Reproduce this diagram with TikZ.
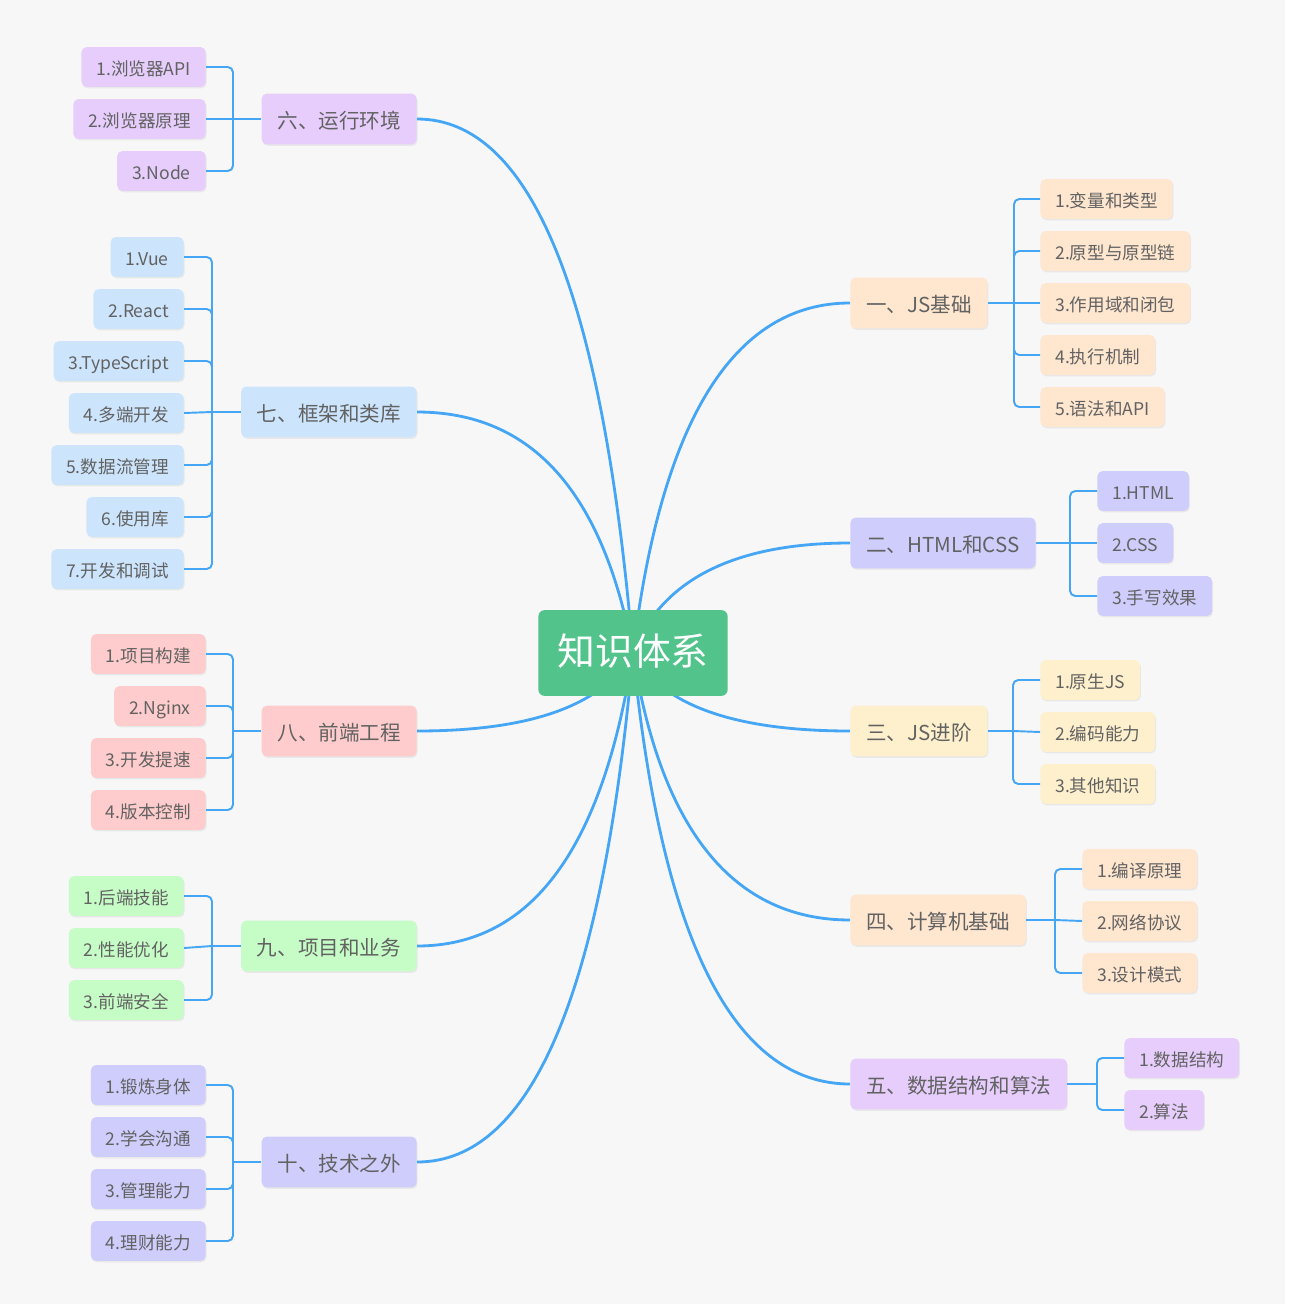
\documentclass[tikz,border=0pt]{standalone}
\usepackage{fontspec}
\setmainfont{Noto Sans CJK SC}
\usepackage{xcolor}
\usepackage{tikz}
\usetikzlibrary{backgrounds, shadows}

\definecolor{canvas}{HTML}{F7F7F7}
\definecolor{ink}{HTML}{626262}
\definecolor{wire}{HTML}{45A6F5}
\definecolor{rootgreen}{HTML}{51C38B}
\definecolor{peach}{HTML}{FEE6CF}
\definecolor{lilac}{HTML}{CFCDFC}
\definecolor{cream}{HTML}{FEF0CC}
\definecolor{mauve}{HTML}{E6CDFC}
\definecolor{sky}{HTML}{CCE5FC}
\definecolor{rose}{HTML}{FECCCC}
\definecolor{mint}{HTML}{C6FCC6}

\begin{document}
\begin{tikzpicture}[
    x=0.02cm, y=-0.02cm,
    root/.style={rectangle, fill=rootgreen, text=white, rounded corners=3.5pt, minimum width=107.7pt, minimum height=48.8pt, text height=1.5em, text depth=0.12em, font=\fontsize{21.5}{24}\selectfont},
    topic/.style={rectangle, rounded corners=3pt, text=ink, minimum height=29pt, inner xsep=9pt, text height=1.25em, text depth=0.15em, font=\fontsize{11.7}{14}\selectfont, drop shadow={shadow xshift=0.5pt, shadow yshift=-0.8pt, opacity=0.12}},
    leaf/.style={rectangle, rounded corners=3pt, text=ink, minimum height=22.7pt, inner xsep=8.5pt, text height=1.1em, text depth=0.15em, font=\fontsize{10}{12}\selectfont, drop shadow={shadow xshift=0.5pt, shadow yshift=-0.8pt, opacity=0.12}},
    trunk/.style={draw=wire, line width=1.6pt},
    twig/.style={draw=wire, line width=1.1pt, rounded corners=3pt}
]
% Canvas
\begin{scope}[on background layer]
\fill[white] (0,0) rectangle (1293,1312);
\fill[canvas] (0,0) rectangle (1285,1304);
\end{scope}
\useasboundingbox (0,0) rectangle (1293,1312);

% Nodes
\node[root] (root) at (633,653) {知识体系};

\node[topic, fill=peach, anchor=west] (js) at (850,303) {一、JS基础};
\node[leaf, fill=peach, anchor=west] (js1) at (1040,199) {1.变量和类型};
\node[leaf, fill=peach, anchor=west] (js2) at (1040,251) {2.原型与原型链};
\node[leaf, fill=peach, anchor=west] (js3) at (1040,303) {3.作用域和闭包};
\node[leaf, fill=peach, anchor=west] (js4) at (1040,355) {4.执行机制};
\node[leaf, fill=peach, anchor=west] (js5) at (1040,407) {5.语法和API};
\coordinate (jsb) at (1014,303);

\node[topic, fill=lilac, anchor=west] (html) at (850,543) {二、HTML和CSS};
\node[leaf, fill=lilac, anchor=west] (html1) at (1097,491) {1.HTML};
\node[leaf, fill=lilac, anchor=west] (html2) at (1097,543) {2.CSS};
\node[leaf, fill=lilac, anchor=west] (html3) at (1097,596) {3.手写效果};
\coordinate (htmlb) at (1070,543);

\node[topic, fill=cream, anchor=west] (jsadv) at (850,731) {三、JS进阶};
\node[leaf, fill=cream, anchor=west] (jsadv1) at (1040,680) {1.原生JS};
\node[leaf, fill=cream, anchor=west] (jsadv2) at (1040,732) {2.编码能力};
\node[leaf, fill=cream, anchor=west] (jsadv3) at (1040,784) {3.其他知识};
\coordinate (jsadvb) at (1013,731);

\node[topic, fill=peach, anchor=west] (cs) at (850,920) {四、计算机基础};
\node[leaf, fill=peach, anchor=west] (cs1) at (1082,869) {1.编译原理};
\node[leaf, fill=peach, anchor=west] (cs2) at (1082,921) {2.网络协议};
\node[leaf, fill=peach, anchor=west] (cs3) at (1082,973) {3.设计模式};
\coordinate (csb) at (1055,920);

\node[topic, fill=mauve, anchor=west] (algo) at (850,1084) {五、数据结构和算法};
\node[leaf, fill=mauve, anchor=west] (algo1) at (1124,1058) {1.数据结构};
\node[leaf, fill=mauve, anchor=west] (algo2) at (1124,1110) {2.算法};
\coordinate (algob) at (1097,1084);

\node[topic, fill=mauve, anchor=east] (env) at (417,119) {六、运行环境};
\node[leaf, fill=mauve, anchor=east] (env1) at (206,67) {1.浏览器API};
\node[leaf, fill=mauve, anchor=east] (env2) at (206,119) {2.浏览器原理};
\node[leaf, fill=mauve, anchor=east] (env3) at (206,171) {3.Node};
\coordinate (envb) at (233,119);

\node[topic, fill=sky, anchor=east] (frame) at (417,412) {七、框架和类库};
\node[leaf, fill=sky, anchor=east] (frame1) at (184,257) {1.Vue};
\node[leaf, fill=sky, anchor=east] (frame2) at (184,309) {2.React};
\node[leaf, fill=sky, anchor=east] (frame3) at (184,361) {3.TypeScript};
\node[leaf, fill=sky, anchor=east] (frame4) at (184,413) {4.多端开发};
\node[leaf, fill=sky, anchor=east] (frame5) at (184,465) {5.数据流管理};
\node[leaf, fill=sky, anchor=east] (frame6) at (184,517) {6.使用库};
\node[leaf, fill=sky, anchor=east] (frame7) at (184,569) {7.开发和调试};
\coordinate (frameb) at (212,412);

\node[topic, fill=rose, anchor=east] (eng) at (417,731) {八、前端工程};
\node[leaf, fill=rose, anchor=east] (eng1) at (206,654) {1.项目构建};
\node[leaf, fill=rose, anchor=east] (eng2) at (206,706) {2.Nginx};
\node[leaf, fill=rose, anchor=east] (eng3) at (206,758) {3.开发提速};
\node[leaf, fill=rose, anchor=east] (eng4) at (206,810) {4.版本控制};
\coordinate (engb) at (233,731);

\node[topic, fill=mint, anchor=east] (biz) at (417,946) {九、项目和业务};
\node[leaf, fill=mint, anchor=east] (biz1) at (184,896) {1.后端技能};
\node[leaf, fill=mint, anchor=east] (biz2) at (184,948) {2.性能优化};
\node[leaf, fill=mint, anchor=east] (biz3) at (184,1000) {3.前端安全};
\coordinate (bizb) at (212,946);

\node[topic, fill=lilac, anchor=east] (beyond) at (417,1162) {十、技术之外};
\node[leaf, fill=lilac, anchor=east] (beyond1) at (206,1085) {1.锻炼身体};
\node[leaf, fill=lilac, anchor=east] (beyond2) at (206,1137) {2.学会沟通};
\node[leaf, fill=lilac, anchor=east] (beyond3) at (206,1189) {3.管理能力};
\node[leaf, fill=lilac, anchor=east] (beyond4) at (206,1241) {4.理财能力};
\coordinate (beyondb) at (233,1162);

% Curves from the centre
\begin{scope}[on background layer]
\draw[trunk] (root.center) .. controls (661,420) and (734,303) .. (js.west);
\draw[trunk] (root.center) .. controls (661,580) and (734,543) .. (html.west);
\draw[trunk] (root.center) .. controls (661,705) and (734,731) .. (jsadv.west);
\draw[trunk] (root.center) .. controls (661,831) and (734,920) .. (cs.west);
\draw[trunk] (root.center) .. controls (661,940) and (734,1084) .. (algo.west);
\draw[trunk] (root.center) .. controls (603,297) and (532,119) .. (env.east);
\draw[trunk] (root.center) .. controls (603,492) and (532,412) .. (frame.east);
\draw[trunk] (root.center) .. controls (603,705) and (532,731) .. (eng.east);
\draw[trunk] (root.center) .. controls (603,848) and (532,946) .. (biz.east);
\draw[trunk] (root.center) .. controls (603,992) and (532,1162) .. (beyond.east);
\end{scope}

% Brackets
\draw[twig] (js.east) -- (jsb);
\draw[twig] (jsb) |- (js1.west);
\draw[twig] (jsb) |- (js2.west);
\draw[twig] (jsb) -- (js3.west);
\draw[twig] (jsb) |- (js4.west);
\draw[twig] (jsb) |- (js5.west);

\draw[twig] (html.east) -- (htmlb);
\draw[twig] (htmlb) |- (html1.west);
\draw[twig] (htmlb) -- (html2.west);
\draw[twig] (htmlb) |- (html3.west);

\draw[twig] (jsadv.east) -- (jsadvb);
\draw[twig] (jsadvb) |- (jsadv1.west);
\draw[twig] (jsadvb) -- (jsadv2.west);
\draw[twig] (jsadvb) |- (jsadv3.west);

\draw[twig] (cs.east) -- (csb);
\draw[twig] (csb) |- (cs1.west);
\draw[twig] (csb) -- (cs2.west);
\draw[twig] (csb) |- (cs3.west);

\draw[twig] (algo.east) -- (algob);
\draw[twig] (algob) |- (algo1.west);
\draw[twig] (algob) |- (algo2.west);

\draw[twig] (env.west) -- (envb);
\draw[twig] (envb) |- (env1.east);
\draw[twig] (envb) -- (env2.east);
\draw[twig] (envb) |- (env3.east);

\draw[twig] (frame.west) -- (frameb);
\draw[twig] (frameb) |- (frame1.east);
\draw[twig] (frameb) |- (frame2.east);
\draw[twig] (frameb) |- (frame3.east);
\draw[twig] (frameb) -- (frame4.east);
\draw[twig] (frameb) |- (frame5.east);
\draw[twig] (frameb) |- (frame6.east);
\draw[twig] (frameb) |- (frame7.east);

\draw[twig] (eng.west) -- (engb);
\draw[twig] (engb) |- (eng1.east);
\draw[twig] (engb) |- (eng2.east);
\draw[twig] (engb) |- (eng3.east);
\draw[twig] (engb) |- (eng4.east);

\draw[twig] (biz.west) -- (bizb);
\draw[twig] (bizb) |- (biz1.east);
\draw[twig] (bizb) -- (biz2.east);
\draw[twig] (bizb) |- (biz3.east);

\draw[twig] (beyond.west) -- (beyondb);
\draw[twig] (beyondb) |- (beyond1.east);
\draw[twig] (beyondb) |- (beyond2.east);
\draw[twig] (beyondb) |- (beyond3.east);
\draw[twig] (beyondb) |- (beyond4.east);

\end{tikzpicture}
\end{document}
